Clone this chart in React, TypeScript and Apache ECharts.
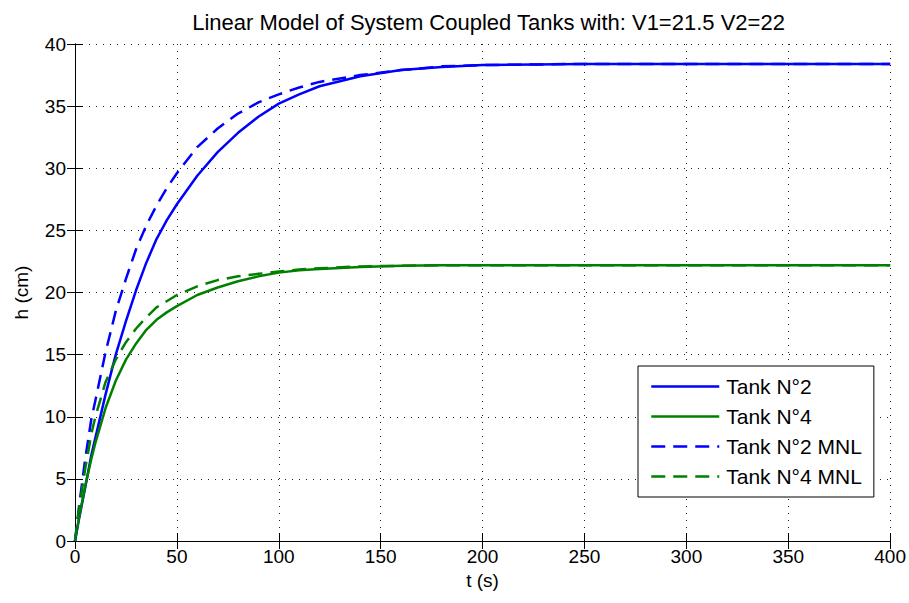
import React, { useEffect, useRef } from "react";
import * as echarts from "echarts";

const tValues = [0, 2, 5, 8, 10, 15, 20, 25, 30, 35, 40, 45, 50, 60, 70, 80, 90, 100, 110, 120, 140, 160, 180, 200, 250, 300, 350, 400];
const tank2 = [0, 1.8, 4.3, 6.9, 8.3, 11.8, 15.0, 17.7, 20.2, 22.4, 24.3, 25.8, 27.1, 29.4, 31.3, 32.85, 34.15, 35.2, 35.95, 36.6, 37.4, 37.9, 38.15, 38.3, 38.4, 38.4, 38.4, 38.4];
const tank4 = [0, 1.9, 4.4, 6.6, 7.9, 10.7, 12.9, 14.6, 15.9, 17.0, 17.8, 18.4, 18.9, 19.8, 20.4, 20.9, 21.3, 21.6, 21.8, 21.9, 22.05, 22.15, 22.2, 22.2, 22.2, 22.2, 22.2, 22.2];
const tank2Mnl = [0, 2.8, 6.6, 9.8, 11.3, 15.2, 18.5, 21.1, 23.5, 25.4, 27.0, 28.4, 29.6, 31.7, 33.2, 34.4, 35.3, 35.95, 36.5, 36.95, 37.5, 37.9, 38.2, 38.3, 38.4, 38.4, 38.4, 38.4];
const tank4Mnl = [0, 2.6, 5.8, 8.6, 10.0, 12.8, 14.6, 16.0, 17.1, 18.0, 18.8, 19.3, 19.8, 20.5, 21.0, 21.3, 21.5, 21.7, 21.85, 21.95, 22.1, 22.15, 22.2, 22.2, 22.2, 22.2, 22.2, 22.2];
const seriesNames = ["Tank N°2", "Tank N°4", "Tank N°2 MNL", "Tank N°4 MNL"];
const titleText = "Linear Model of System Coupled Tanks with: V1=21.5 V2=22";

const FONT = "'Liberation Sans', Arial, sans-serif";

const pairs = (ys: number[]) => tValues.map((t, i) => [t, ys[i]]);

export default function App() {
  const ref = useRef<HTMLDivElement>(null);
  useEffect(() => {
    if (!ref.current) return;
    const chart = echarts.init(ref.current, undefined, { renderer: "svg" });
    const axisLine = { show: true, lineStyle: { color: "#000", width: 1 } };
    const tick = { show: true, inside: true, length: 8, lineStyle: { color: "#000", width: 1 } };
    const grid = { show: true, lineStyle: { color: "#222", width: 1, type: [1, 6] } };
    const mk = (name: string, data: number[], color: string, dashed: boolean) => ({
      name,
      type: "line",
      xAxisIndex: 0,
      yAxisIndex: 0,
      data: pairs(data),
      symbol: "none",
      showSymbol: false,
      smooth: false,
      lineStyle: { color, width: 2.5, type: dashed ? [14, 8] : "solid", join: "round" },
      itemStyle: { color },
      z: 3,
    });
    chart.setOption({
      animation: false,
      backgroundColor: "#fff",
      textStyle: { fontFamily: FONT },
      title: {
        text: titleText,
        left: 483.5,
        textAlign: "center",
        top: 6,
        textStyle: { fontFamily: FONT, fontSize: 22, fontWeight: "normal", color: "#000" },
      },
      grid: { left: 75, right: 17, top: 44, bottom: 62, containLabel: false },
      legend: {
        orient: "vertical",
        left: 638,
        top: 366,
        data: seriesNames,
        itemWidth: 68,
        itemHeight: 14,
        itemGap: 9,
        padding: [10, 12, 10, 12],
        borderColor: "#000",
        borderWidth: 1,
        backgroundColor: "#fff",
        itemStyle: { opacity: 0, color: "rgba(0,0,0,0)", borderColor: "rgba(0,0,0,0)", borderWidth: 0 },
        lineStyle: { width: 2.5 },
        textStyle: { fontFamily: FONT, fontSize: 21, color: "#000", padding: [0, 0, 0, 2] },
      },
      xAxis: [
        {
          type: "value",
          min: 0,
          max: 400,
          interval: 50,
          name: "t (s)",
          nameLocation: "middle",
          nameGap: 30,
          nameTextStyle: { fontFamily: FONT, fontSize: 19, color: "#000" },
          axisLine,
          axisTick: tick,
          axisLabel: { fontFamily: FONT, fontSize: 19, color: "#000", margin: 6 },
          splitLine: grid,
        },
        {
          type: "value",
          position: "top",
          min: 0,
          max: 400,
          interval: 50,
          axisLine,
          axisTick: tick,
          axisLabel: { show: false },
          splitLine: { show: false },
        },
      ],
      yAxis: [
        {
          type: "value",
          min: 0,
          max: 40,
          interval: 5,
          name: "h (cm)",
          nameLocation: "middle",
          nameGap: 44,
          nameTextStyle: { fontFamily: FONT, fontSize: 19, color: "#000" },
          axisLine,
          axisTick: tick,
          axisLabel: { fontFamily: FONT, fontSize: 19, color: "#000", margin: 9 },
          splitLine: grid,
        },
        {
          type: "value",
          position: "right",
          min: 0,
          max: 40,
          interval: 5,
          axisLine,
          axisTick: tick,
          axisLabel: { show: false },
          splitLine: { show: false },
        },
      ],
      series: [
        mk(seriesNames[0], tank2, "#0000ff", false),
        mk(seriesNames[1], tank4, "#008000", false),
        mk(seriesNames[2], tank2Mnl, "#0000ff", true),
        mk(seriesNames[3], tank4Mnl, "#008000", true),
      ],
    });
    return () => chart.dispose();
  }, []);
  return (
    <div
      ref={ref}
      style={{ position: "absolute", left: 0, top: 0, width: 909, height: 603, background: "#fff" }}
    />
  );
}
